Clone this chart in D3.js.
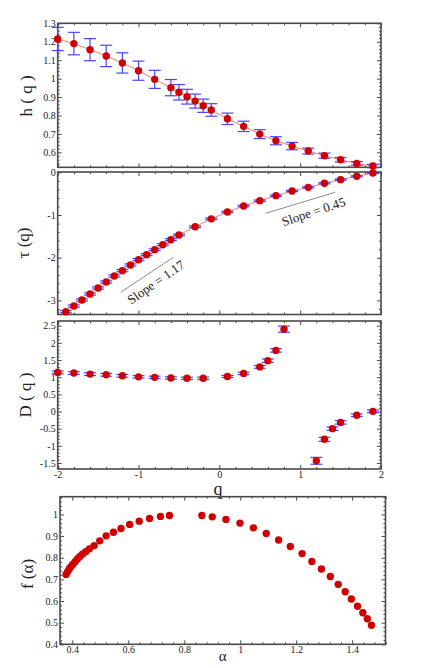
<!DOCTYPE html>
<html><head><meta charset="utf-8">
<script src="https://cdn.jsdelivr.net/npm/d3@7/dist/d3.min.js"></script>
<style>
html,body{margin:0;padding:0;background:#fff;}
svg text{font-family:"Liberation Serif","DejaVu Serif",serif;fill:#222;}
</style></head>
<body><svg id="c" width="436" height="668"></svg>
<script>
// ---- data ----
const qH = [-2,-1.8,-1.6,-1.4,-1.2,-1,-0.8,-0.6,-0.5,-0.4,-0.3,-0.2,-0.1,0.1,0.3,0.5,0.7,0.9,1.1,1.3,1.5,1.7,1.9];
const hVals = [1.215,1.19,1.157,1.123,1.085,1.043,0.996,0.951,0.926,0.902,0.878,0.853,0.83,0.782,0.741,0.699,0.663,0.634,0.607,0.582,0.56,0.54,0.526];
const hErr = [0.063,0.061,0.06,0.058,0.055,0.052,0.049,0.044,0.042,0.04,0.038,0.036,0.034,0.031,0.028,0.024,0.022,0.02,0.016,0.014,0.012,0.01,0.009];

const qTau = [-1.9,-1.8,-1.7,-1.6,-1.5,-1.4,-1.3,-1.2,-1.1,-1,-0.9,-0.8,-0.7,-0.6,-0.5,-0.3,-0.1,0.1,0.3,0.5,0.7,0.9,1.1,1.3,1.5,1.7,1.9];
const tauVals = [-3.265,-3.131,-2.991,-2.85,-2.71,-2.569,-2.429,-2.304,-2.171,-2.047,-1.93,-1.813,-1.696,-1.578,-1.468,-1.274,-1.09,-0.93,-0.789,-0.664,-0.547,-0.438,-0.352,-0.258,-0.172,-0.094,-0.016];
const tauErr = [0.025,0.025,0.025,0.025,0.025,0.025,0.025,0.025,0.025,0.025,0.022,0.022,0.022,0.022,0.02,0.02,0.02,0.018,0.018,0.016,0.016,0.015,0.015,0.014,0.014,0.013,0.013];

const qD = [-2,-1.8,-1.6,-1.4,-1.2,-1,-0.8,-0.6,-0.4,-0.2,0.1,0.3,0.5,0.6,0.7,0.8,1.2,1.3,1.4,1.5,1.7,1.9];
const dVals = [1.14,1.12,1.09,1.07,1.04,1.01,0.995,0.975,0.967,0.967,1.02,1.11,1.30,1.48,1.78,2.40,-1.436,-0.81,-0.50,-0.317,-0.11,0.004];
const dErr = [0.04,0.04,0.04,0.04,0.04,0.035,0.035,0.035,0.035,0.035,0.03,0.035,0.04,0.05,0.05,0.09,0.1,0.06,0.05,0.05,0.04,0.04];

const alphaVals = [0.3775,0.3835,0.389,0.395,0.402,0.41,0.418,0.426,0.436,0.448,0.461,0.478,0.498,0.521,0.547,0.574,0.605,0.639,0.676,0.715,0.747,
  0.863,0.9,0.949,0.999,1.047,1.093,1.137,1.179,1.221,1.256,1.29,1.322,1.35,1.375,1.397,1.419,1.438,1.454,1.469];
const fVals = [0.723,0.736,0.748,0.759,0.770,0.782,0.794,0.805,0.816,0.828,0.841,0.856,0.878,0.901,0.918,0.935,0.954,0.969,0.981,0.991,0.995,
  0.995,0.989,0.977,0.96,0.938,0.912,0.882,0.852,0.819,0.783,0.748,0.713,0.677,0.643,0.609,0.576,0.546,0.518,0.488];

const qTicks = [-2,-1,0,1,2];
const hTicks = [0.6,0.7,0.8,0.9,1,1.1,1.2,1.3];
const tauTicks = [-3,-2,-1,0];
const dTicks = [-1.5,-1,-0.5,0,0.5,1,1.5,2,2.5];
const fTicks = [0.4,0.5,0.6,0.7,0.8,0.9,1];
const alphaTicks = [0.4,0.6,0.8,1,1.2,1.4];

const slopes = [
  {label:"Slope = 1.17", x1:-1.22, y1:-2.81, x2:-0.569, y2:-1.99, tx:-0.775, ty:-2.60},
  {label:"Slope = 0.45", x1:0.574, y1:-0.96, x2:1.432, y2:-0.468, tx:1.172, ty:-0.954}
];

// ---- drawing ----
const svg = d3.select("#c");
const RED = "#d10000", BLUE = "#4646ff", LINE = "#ff7a7a", FRAME = "#4a4a4a";
const fmt = d => String(+d.toFixed(3));
function minorRange(a,b,step,majors){
  const out=[]; const n=Math.round((b-a)/step);
  for(let i=0;i<=n;i++){const v=+(a+i*step).toFixed(4); if(!majors.some(m=>Math.abs(m-v)<1e-6)) out.push(v);}
  return out;
}
function frame(x, y, opt){
  const [x0,x1]=x.range(), [y0,y1]=y.range();
  const g = svg.append("g");
  const add=(axis, tr, vals, size, labels)=>{
    const a = axis.tickValues(vals).tickSize(-size).tickPadding(2);
    a.tickFormat(labels? fmt : ()=>"");
    const gg = g.append("g").attr("transform",tr).call(a);
    gg.select(".domain").remove();
    gg.selectAll("line").attr("stroke",FRAME).attr("stroke-width",1);
    gg.selectAll("text").attr("font-size",10).attr("fill","#222").attr("font-family","Liberation Serif, serif");
    return gg;
  };
  add(d3.axisLeft(y), `translate(${x0},0)`, opt.yMajor, 4, true);
  add(d3.axisLeft(y), `translate(${x0},0)`, opt.yMinor, 2, false);
  add(d3.axisRight(y), `translate(${x1},0)`, opt.yMajor, 4, false);
  add(d3.axisRight(y), `translate(${x1},0)`, opt.yMinor, 2, false);
  add(d3.axisBottom(x), `translate(0,${y0})`, opt.xMajor, 4, opt.xLabels);
  add(d3.axisBottom(x), `translate(0,${y0})`, opt.xMinor, 2, false);
  add(d3.axisTop(x), `translate(0,${y1})`, opt.xMajor, 4, false);
  add(d3.axisTop(x), `translate(0,${y1})`, opt.xMinor, 2, false);
  g.append("rect").attr("x",x0).attr("y",y1).attr("width",x1-x0).attr("height",y0-y1)
    .attr("fill","none").attr("stroke",FRAME).attr("stroke-width",1.6);
  return g;
}
function ylabel(text, cx, cy){
  svg.append("text").attr("transform",`translate(${cx},${cy}) rotate(-90)`)
    .attr("text-anchor","middle").attr("dominant-baseline","middle")
    .attr("font-size",17).text(text);
}
function errbars(x,y,qs,vs,es){
  const g = svg.append("g").attr("stroke",BLUE).attr("stroke-width",1.2).attr("fill","none");
  qs.forEach((q,i)=>{
    const cx=x(q), t=y(vs[i]+es[i]), b=y(vs[i]-es[i]);
    g.append("line").attr("x1",cx).attr("x2",cx).attr("y1",t).attr("y2",b);
    g.append("line").attr("x1",cx-6).attr("x2",cx+6).attr("y1",t).attr("y2",t);
    g.append("line").attr("x1",cx-6).attr("x2",cx+6).attr("y1",b).attr("y2",b);
  });
}
function dots(x,y,xs,ys){
  svg.append("g").selectAll("circle").data(xs).join("circle")
    .attr("cx",d=>x(d)).attr("cy",(d,i)=>y(ys[i])).attr("r",3.7).attr("fill",RED);
}
function curve(x,y,xs,ys){
  svg.append("path").datum(xs.map((d,i)=>[d,ys[i]]))
    .attr("d",d3.line().x(d=>x(d[0])).y(d=>y(d[1])))
    .attr("fill","none").attr("stroke",LINE).attr("stroke-width",1);
}

const xQ = d3.scaleLinear([-2,2],[57.7,381]);
const qMinor = minorRange(-2,2,0.2,qTicks);

// Panel 1: h(q)
const yH = d3.scaleLinear([0.519,1.3],[167.3,23.3]);
frame(xQ,yH,{yMajor:hTicks,yMinor:minorRange(0.52,1.3,0.02,hTicks),xMajor:qTicks,xMinor:qMinor,xLabels:false});
curve(xQ,yH,qH,hVals);
errbars(xQ,yH,qH,hVals,hErr);
dots(xQ,yH,qH,hVals);
ylabel("h ( q )",28,96);

// Panel 2: tau(q)
const yT = d3.scaleLinear([-3.33,0.007],[314.5,172]);
frame(xQ,yT,{yMajor:tauTicks,yMinor:minorRange(-3.2,0,0.2,tauTicks),xMajor:qTicks,xMinor:qMinor,xLabels:false});
slopes.forEach(s=>{
  svg.append("line").attr("x1",xQ(s.x1)).attr("y1",yT(s.y1)).attr("x2",xQ(s.x2)).attr("y2",yT(s.y2))
    .attr("stroke","#8a8a8a").attr("stroke-width",1);
  const ang = Math.atan2(yT(s.y2)-yT(s.y1), xQ(s.x2)-xQ(s.x1))*180/Math.PI;
  svg.append("text").attr("transform",`translate(${xQ(s.tx)},${yT(s.ty)}) rotate(${ang-1.5})`)
    .attr("text-anchor","middle").attr("dominant-baseline","middle").attr("font-size",13).text(s.label);
});
curve(xQ,yT,qTau,tauVals);
errbars(xQ,yT,qTau,tauVals,tauErr);
dots(xQ,yT,qTau,tauVals);
ylabel("τ (q)",25,243);

// Panel 3: D(q)
const yD = d3.scaleLinear([-1.675,2.637],[469,321]);
frame(xQ,yD,{yMajor:dTicks,yMinor:minorRange(-1.6,2.6,0.1,dTicks),xMajor:qTicks,xMinor:qMinor,xLabels:true});
errbars(xQ,yD,qD,dVals,dErr);
dots(xQ,yD,qD,dVals);
ylabel("D ( q )",27,395);
svg.append("text").attr("x",218).attr("y",491).attr("text-anchor","middle").attr("dominant-baseline","middle")
  .attr("font-size",18).text("q");

// Panel 4: f(alpha)
const xA = d3.scaleLinear([0.356,1.519],[60,385.5]);
const yF = d3.scaleLinear([0.4,1.082],[644.3,496.7]);
frame(xA,yF,{yMajor:fTicks,yMinor:minorRange(0.4,1.08,0.02,fTicks),xMajor:alphaTicks,xMinor:minorRange(0.36,1.52,0.04,alphaTicks),xLabels:true});
dots(xA,yF,alphaVals,fVals);
ylabel("f (α)",29,574);
svg.append("text").attr("x",222.7).attr("y",658).attr("text-anchor","middle").attr("dominant-baseline","middle")
  .attr("font-size",15).text("α");
</script></body></html>
